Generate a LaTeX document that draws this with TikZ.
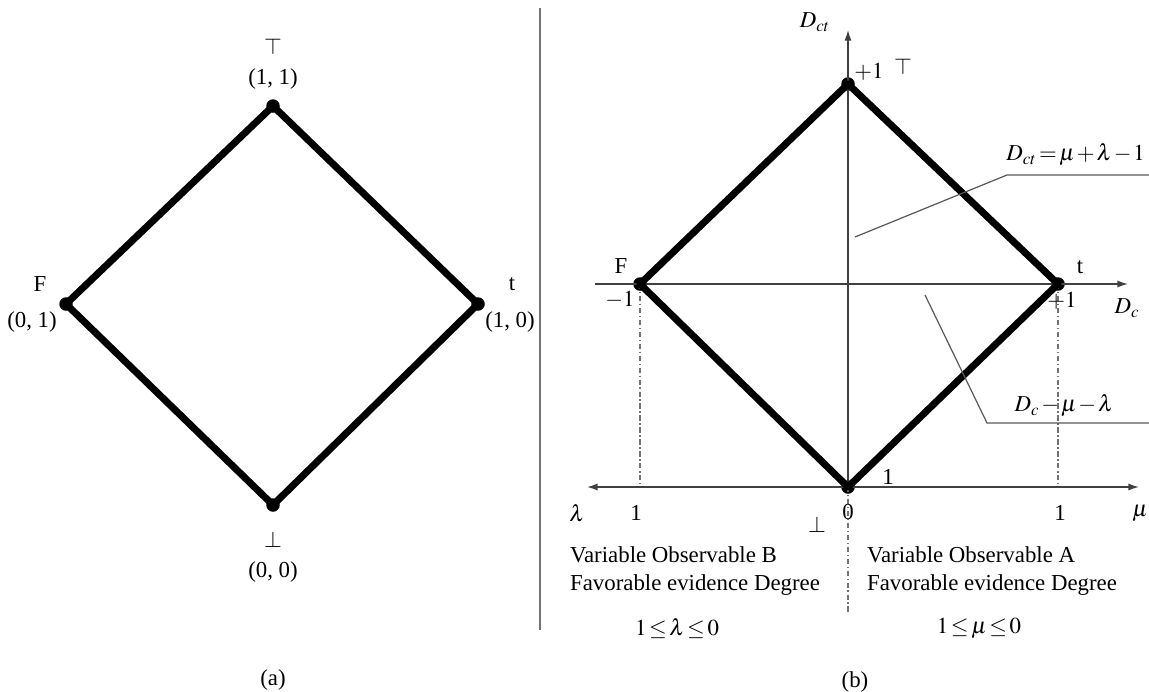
\documentclass[tikz,border=0pt]{standalone}
\usepackage{mathptmx}
\usepackage{fontspec}
\setmainfont{Liberation Serif}
\usetikzlibrary{calc,arrows.meta}
\tikzset{
  lattice/.style={black, line width=4pt, line join=round},
  vertex/.style={circle, fill=black, inner sep=0pt, minimum size=0.27cm},
  axis/.style={draw=black!75, line width=0.8pt},
  sepline/.style={draw=black!55, line width=1.2pt},
  leader/.style={draw=black!65, line width=0.7pt},
  guide/.style={draw=black!55, line width=0.7pt,
    dash pattern=on 3pt off 1.5pt on 0.8pt off 1.5pt},
  lbl/.style={font=\fontsize{13}{15.5}\selectfont, inner sep=1pt},
  tight/.style={lbl, execute at begin node={\medmuskip=1.5mu\thickmuskip=2mu}},
  tip/.style={-{Latex[length=6pt,width=4pt]}}
}

\begin{document}
\begin{tikzpicture}[x=0.02cm,y=-0.02cm]
\useasboundingbox (0,0) rectangle (1149,691);
% (a) the lattice
\node[vertex] (aT) at (273,106) {};
\node[vertex] (aF) at (66,304) {};
\node[vertex] (at) at (478,304) {};
\node[vertex] (aB) at (273,505) {};
\draw[lattice] (aT.center) -- (at.center) -- (aB.center) -- (aF.center) -- cycle;
\node[lbl] (aTs) at (273,47) {$\top$};
\node[lbl] (aTc) at (273,79) {(1, 1)};
\node[lbl] (aFs) at (40,284) {F};
\node[lbl] (aFc) at (32,322) {(0, 1)};
\node[lbl] (ats) at (512,284) {t};
\node[lbl] (atc) at (510,322) {(1, 0)};
\node[lbl] (aBs) at (273,540) {$\bot$};
\node[lbl] (aBc) at (273,572) {(0, 0)};
\node[lbl] (capa) at (273,680) {(a)};
% separator
\coordinate (sepN) at (540,8);
\coordinate (sepS) at (540,630);
\draw[sepline] (sepN) -- (sepS);
% (b) axes
\coordinate (yN) at (848,30);
\coordinate (xW) at (595,284);
\coordinate (xE) at (1128,284);
\coordinate (mW) at (587,487);
\coordinate (mE) at (1139,487);
\coordinate (zS) at (848,612);
\node[vertex] (bT) at (848,84) {};
\node[vertex] (bF) at (640,284) {};
\node[vertex] (bt) at (1058,284) {};
\node[vertex] (bB) at (848,487) {};
\draw[axis,tip] (bB.center) -- (yN);
\draw[axis,tip] (xW) -- (xE);
\draw[axis,{Latex[length=6pt,width=4pt]}-{Latex[length=6pt,width=4pt]}] (mW) -- (mE);
\draw[guide] (bB.center) -- (zS);
\foreach \v in {bF,bt} \draw[guide] (\v.center) -- (\v.center |- bB.center);
\draw[lattice] (bT.center) -- (bt.center) -- (bB.center) -- (bF.center) -- cycle;
% leaders
\coordinate (ctA) at (855,237);
\coordinate (ctB) at (1007,175);
\coordinate (ctC) at (1149,175);
\coordinate (cA) at (925,295);
\coordinate (cB) at (987,423);
\coordinate (cC) at (1149,423);
\draw[leader] (ctA) -- (ctB) -- (ctC);
\draw[leader] (cA) -- (cB) -- (cC);
\node[tight, anchor=east] (ctEq) at (1147,155) {$D_{ct} = \mu + \lambda - 1$};
\node[tight] (cEq) at (1064,406) {$D_{c} - \mu - \lambda$};
% (b) labels
\node[lbl] (yLab) at (815,22) {$D_{ct}$};
\node[lbl] (bTn) at (869,72) {$+1$};
\node[lbl] (bTs) at (903,67) {$\top$};
\node[lbl] (bFs) at (621,266) {F};
\node[lbl] (bFn) at (620,300) {$-1$};
\node[lbl] (bts) at (1080,267) {t};
\node[lbl] (btn) at (1062,301) {$+1$};
\node[lbl] (xLab) at (1127,308) {$D_c$};
\node[lbl] (bBn) at (888,477) {1};
\node[lbl] (lamLab) at (577,513) {$\lambda$};
\node[lbl] (lamOne) at (636,513) {1};
\node[lbl] (zero) at (848,512) {0};
\node[lbl] (bBs) at (817,525) {$\bot$};
\node[lbl] (muOne) at (1060,513) {1};
\node[lbl] (muLab) at (1140,513) {$\mu$};
\node[lbl, anchor=west, align=left] (obsB) at (568,571) {Variable Observable B\\Favorable evidence Degree};
\node[lbl, anchor=west, align=left] (obsA) at (865,571) {Variable Observable A\\Favorable evidence Degree};
\node[tight] (rngB) at (677,628) {$1 \leq \lambda \leq 0$};
\node[tight] (rngA) at (979,628) {$1 \leq \mu \leq 0$};
\node[lbl] (capb) at (855,682) {(b)};
\end{tikzpicture}
\end{document}
